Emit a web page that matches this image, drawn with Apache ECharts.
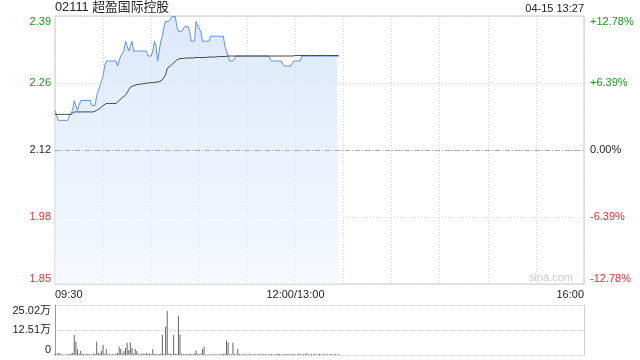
<!DOCTYPE html>
<html>
<head>
<meta charset="utf-8">
<script src="https://cdn.jsdelivr.net/npm/echarts@6/dist/echarts.min.js"></script>
<style>
html,body{margin:0;padding:0;background:#fff;}
#c{width:640px;height:360px;}
</style>
</head>
<body>
<div id="c"></div>
<script>
// ---- data ----
const stockTitle = '02111 超盈国际控股';
const stamp = '04-15 13:27';
const prevClose = 2.12;
const rangePct = 12.78;
const timeLabels = {0: '09:30', 150: '12:00/13:00', 330: '16:00'};

// minute-by-minute price (index 0 = 09:30, 150 = 12:00/13:00)
const prices = [
 2.20,2.19,2.18,2.18,2.18,2.18,2.18,2.18,2.18,2.19,
 2.19,2.20,2.22,2.21,2.20,2.21,2.22,2.22,2.22,2.22,
 2.22,2.22,2.22,2.21,2.21,2.21,2.23,2.24,2.25,2.26,
 2.27,2.29,2.30,2.30,2.30,2.30,2.30,2.30,2.30,2.29,
 2.30,2.31,2.31,2.32,2.34,2.33,2.32,2.33,2.34,2.32,
 2.32,2.32,2.32,2.32,2.32,2.32,2.32,2.32,2.31,2.31,
 2.31,2.32,2.34,2.33,2.30,2.30,2.34,2.35,2.37,2.38,
 2.38,2.38,2.38,2.39,2.39,2.39,2.37,2.36,2.36,2.36,
 2.36,2.37,2.37,2.37,2.36,2.34,2.34,2.34,2.38,2.37,
 2.37,2.36,2.34,2.34,2.34,2.34,2.34,2.35,2.35,2.35,
 2.35,2.35,2.35,2.35,2.35,2.35,2.33,2.32,2.31,2.30,
 2.30,2.30,2.30,2.31,2.31,2.31,2.31,2.31,2.31,2.31,
 2.31,2.31,2.31,2.31,2.31,2.31,2.31,2.31,2.31,2.31,
 2.31,2.31,2.31,2.31,2.31,2.30,2.30,2.30,2.30,2.30,
 2.30,2.30,2.30,2.29,2.29,2.29,2.29,2.29,2.29,2.30,
 2.30,2.30,2.30,2.30,2.31,2.31,2.31,2.31,2.31,2.31,
 2.31,2.31,2.31,2.31,2.31,2.31,2.31,2.31,2.31,2.31,
 2.31,2.31,2.31,2.31,2.31,2.31,2.31,2.31
];

// average price line
const avgPrices = [
 2.192,2.192,2.192,2.192,2.192,2.192,2.192,2.192,2.192,2.192,
 2.192,2.192,2.197,2.197,2.197,2.197,2.197,2.197,2.197,2.197,
 2.197,2.197,2.197,2.197,2.197,2.197,2.200,2.202,2.204,2.207,
 2.210,2.213,2.214,2.214,2.214,2.214,2.214,2.214,2.214,2.217,
 2.220,2.224,2.226,2.228,2.231,2.236,2.242,2.247,2.249,2.250,
 2.251,2.252,2.253,2.253,2.254,2.254,2.255,2.255,2.256,2.256,
 2.256,2.256,2.257,2.257,2.257,2.258,2.258,2.262,2.266,2.272,
 2.285,2.288,2.290,2.292,2.296,2.299,2.302,2.304,2.305,2.305,
 2.305,2.305,2.306,2.306,2.306,2.306,2.306,2.306,2.307,2.307,
 2.307,2.307,2.307,2.307,2.307,2.308,2.308,2.308,2.308,2.308,
 2.308,2.308,2.309,2.309,2.309,2.309,2.309,2.309,2.310,2.310,
 2.310,2.310,2.310,2.310,2.310,2.310,2.310,2.310,2.310,2.310,
 2.310,2.310,2.310,2.310,2.310,2.310,2.310,2.310,2.310,2.310,
 2.310,2.310,2.310,2.310,2.310,2.310,2.310,2.310,2.310,2.310,
 2.310,2.310,2.310,2.310,2.310,2.310,2.310,2.310,2.310,2.310,
 2.311,2.311,2.311,2.311,2.311,2.311,2.311,2.311,2.311,2.311,
 2.311,2.311,2.311,2.311,2.311,2.311,2.311,2.311,2.311,2.311,
 2.311,2.311,2.311,2.311,2.311,2.311,2.311,2.311
];

// volume per minute (shares)
const volumes = [
 6000,4000,11000,8000,3000,2000,3000,2000,5000,4000,
 8000,10000,100000,67000,30000,8000,20000,6000,5000,4000,
 6000,5000,4000,3000,8000,5000,67000,11000,8000,20000,
 50000,6000,30000,5000,4000,3000,5000,4000,6000,10000,
 42000,30000,8000,20000,35000,62000,25000,62000,35000,8000,
 30000,20000,5000,4000,6000,8000,5000,10000,6000,8000,
 5000,30000,6000,5000,4000,5000,8000,100000,6000,142000,
 220000,8000,5000,6000,100000,8000,5000,195000,102000,6000,
 5000,4000,5000,4000,6000,5000,4000,8000,22000,6000,
 5000,8000,30000,42000,3000,2000,4000,3000,5000,3000,
 4000,4000,3000,5000,4000,6000,8000,72000,62000,5000,
 4000,62000,5000,4000,30000,5000,4000,3000,5000,4000,
 3000,6000,4000,3000,5000,4000,3000,4000,6000,3000,
 4000,5000,3000,4000,3000,5000,4000,3000,4000,6000,
 5000,3000,4000,3000,5000,4000,6000,3000,4000,5000,
 3000,4000,6000,5000,3000,4000,5000,8000,4000,3000,
 5000,4000,6000,3000,4000,5000,3000,4000,5000,3000,
 4000,3000,5000,4000,3000,4000,3000,4000
];
const volMax = 250200;

// ---- chart ----
const FONT = '"Liberation Sans", Arial, "Noto Sans CJK SC", sans-serif';
const pct = p => (p / prevClose - 1) * 100;
const priceData = prices.map((p, i) => [i, pct(p)]);
const avgData = avgPrices.map((p, i) => [i, pct(p)]);
const volData = volumes.map((v, i) => [i, v]);
const green = '#129c12', red = '#ee2a2a';
const colorOf = v => v > 1e-9 ? green : (v < -1e-9 ? red : '#222');

const chart = echarts.init(document.getElementById('c'), null, {renderer: 'canvas'});
chart.setOption({
  animation: false,
  textStyle: {fontFamily: FONT},
  title: [
    {text: stockTitle, left: 55, top: 1, padding: 0,
     textStyle: {fontSize: 12.8, fontWeight: 'normal', color: '#222', fontFamily: FONT}},
    {text: stamp, right: 56, top: 3, padding: 0,
     textStyle: {fontSize: 11, fontWeight: 'normal', color: '#222', fontFamily: FONT}}
  ],
  graphic: [{
    type: 'text', right: 67, top: 272, silent: true,
    style: {text: 'sina.com', fill: '#c8c8c8', font: '11px ' + FONT}
  }],
  grid: [
    {left: 55, right: 56, top: 16, height: 268, show: true, borderColor: '#c8c8c8', borderWidth: 1},
    {left: 55, right: 56, top: 305, height: 50, show: false}
  ],
  xAxis: [
    {type: 'value', gridIndex: 0, min: 0, max: 330, interval: 30,
     axisLine: {show: false}, axisTick: {show: false},
     splitLine: {show: true, lineStyle: {color: '#d4d4d4', type: [1, 2]}},
     axisLabel: {show: true, margin: 5, fontSize: 11, color: '#222', fontFamily: FONT,
       alignMinLabel: 'left', alignMaxLabel: 'right',
       formatter: v => timeLabels[v] || ''}},
    {type: 'value', gridIndex: 1, min: 0, max: 330, interval: 30,
     axisLine: {show: false}, axisTick: {show: false},
     splitLine: {show: false}, axisLabel: {show: false}}
  ],
  yAxis: [
    {type: 'value', gridIndex: 0, min: -rangePct, max: rangePct, interval: rangePct / 2,
     position: 'left',
     axisLine: {show: false}, axisTick: {show: false},
     splitLine: {show: true, lineStyle: {color: '#d4d4d4', type: [1, 2]}},
     axisLabel: {margin: 4, fontSize: 11, fontFamily: FONT,
       verticalAlignMaxLabel: 'top', verticalAlignMinLabel: 'bottom',
       color: v => colorOf(v),
       formatter: v => (prevClose * (1 + v / 100)).toFixed(2)}},
    {type: 'value', gridIndex: 0, min: -rangePct, max: rangePct, interval: rangePct / 2,
     position: 'right',
     axisLine: {show: false}, axisTick: {show: false}, splitLine: {show: false},
     axisLabel: {margin: 6, fontSize: 11, fontFamily: FONT,
       verticalAlignMaxLabel: 'top', verticalAlignMinLabel: 'bottom',
       color: v => colorOf(v),
       formatter: v => (v > 1e-9 ? '+' : '') + (Math.abs(v) < 1e-9 ? 0 : v).toFixed(2) + '%'}},
    {type: 'value', gridIndex: 1, min: 0, max: volMax, interval: volMax / 2,
     position: 'left',
     axisLine: {show: true, lineStyle: {color: '#999'}}, axisTick: {show: false},
     splitLine: {show: true, lineStyle: {color: '#cfcfcf', type: [1, 1]}},
     axisLabel: {margin: 4, fontSize: 11, color: '#222', fontFamily: FONT,
       verticalAlignMaxLabel: 'top', verticalAlignMinLabel: 'bottom',
       formatter: v => v === 0 ? '0' : (v / 10000).toFixed(2) + '万'}},
    {type: 'value', gridIndex: 1, min: 0, max: volMax, interval: volMax / 2,
     position: 'right',
     axisLine: {show: true, lineStyle: {color: '#cfcfcf'}}, axisTick: {show: false},
     splitLine: {show: false}, axisLabel: {show: false}}
  ],
  series: [
    {type: 'line', xAxisIndex: 0, yAxisIndex: 0, data: priceData, symbol: 'none',
     lineStyle: {color: '#5a90ee', width: 1},
     areaStyle: {origin: 'start', color: new echarts.graphic.LinearGradient(0, 0, 0, 1, [
       {offset: 0, color: '#cddff8'}, {offset: 1, color: '#f1f6fe'}])},
     markLine: {silent: true, symbol: 'none', label: {show: false},
       lineStyle: {color: '#aaaaaa', type: [5, 2, 1, 2], width: 1},
       data: [{yAxis: 0}]},
     z: 3},
    {type: 'line', xAxisIndex: 0, yAxisIndex: 0, data: avgData, symbol: 'none',
     lineStyle: {color: '#444', width: 1}, z: 4},
    {type: 'bar', xAxisIndex: 1, yAxisIndex: 2, data: volData, barWidth: 1,
     itemStyle: {color: '#666'}}
  ]
});
</script>
</body>
</html>
